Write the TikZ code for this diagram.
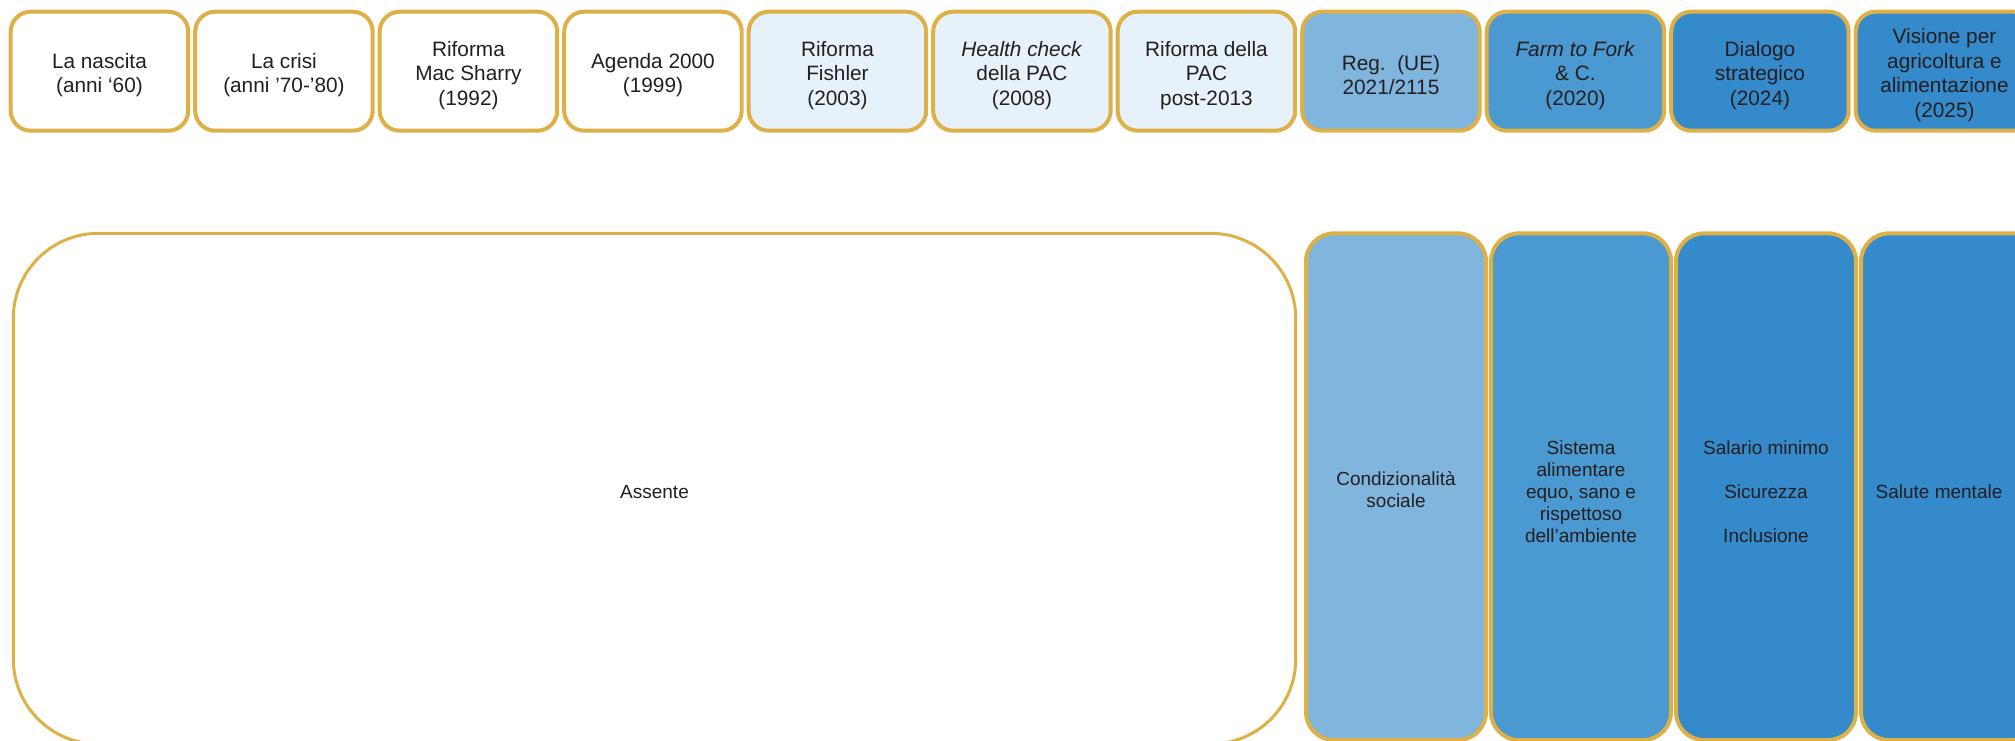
\documentclass[tikz,border=0pt]{standalone}
\usepackage{fontspec}
\setmainfont{Liberation Sans}
\definecolor{gold}{HTML}{DDB048}
\definecolor{paleblue}{HTML}{E6F1F9}
\definecolor{blueA}{HTML}{80B5DD}
\definecolor{blueB}{HTML}{4A99D0}
\definecolor{blueC}{HTML}{348ACA}
\definecolor{ink}{HTML}{231F20}
\begin{document}
\begin{tikzpicture}[x=1pt,y=-1pt,
  topbox/.style={draw=gold, line width=4pt, rounded corners=20pt,
    minimum width=177.5pt, minimum height=119pt, inner sep=0pt},
  colbox/.style={draw=gold, line width=4pt, rounded corners=28pt,
    minimum width=180pt, minimum height=506.7pt, inner sep=0pt},
  bigbox/.style={draw=gold, line width=3pt, rounded corners=85pt,
    minimum width=1282.4pt, minimum height=510.7pt, inner sep=0pt},
  toptext/.style={inner sep=0pt, align=center, text=ink,
    font=\fontsize{20.8}{24.5}\selectfont},
  bottext/.style={inner sep=0pt, align=center, text=ink,
    font=\fontsize{19}{22}\selectfont}]
\useasboundingbox (0,0) rectangle (2015,741);
\clip (0,0) rectangle (2015,741);
% top row boxes
\node[topbox, fill=white]    (t1)  at (99.45,71.2)   {};
\node[topbox, fill=white]    (t2)  at (283.95,71.2)  {};
\node[topbox, fill=white]    (t3)  at (468.45,71.2)  {};
\node[topbox, fill=white]    (t4)  at (652.95,71.2)  {};
\node[topbox, fill=paleblue] (t5)  at (837.45,71.2)  {};
\node[topbox, fill=paleblue] (t6)  at (1021.95,71.2) {};
\node[topbox, fill=paleblue] (t7)  at (1206.45,71.2) {};
\node[topbox, fill=blueA]    (t8)  at (1390.95,71.2) {};
\node[topbox, fill=blueB]    (t9)  at (1575.45,71.2) {};
\node[topbox, fill=blueC]    (t10) at (1759.95,71.2) {};
\node[topbox, fill=blueC]    (t11) at (1944.45,71.2) {};
% top row texts
\node[toptext] (l1)  at ([yshift=-4pt]t1.center)  {La nascita\\(anni ‘60)};
\node[toptext] (l2)  at ([yshift=-4pt]t2.center)  {La crisi\\(anni ’70-’80)};
\node[toptext] (l3)  at ([yshift=-4pt]t3.center)  {Riforma\\Mac Sharry\\(1992)};
\node[toptext] (l4)  at ([yshift=-4pt]t4.center)  {Agenda 2000\\(1999)};
\node[toptext] (l5)  at ([yshift=-4pt]t5.center)  {Riforma\\Fishler\\(2003)};
\node[toptext] (l6)  at ([yshift=-4pt]t6.center)  {\textit{Health check}\\della PAC\\(2008)};
\node[toptext] (l7)  at ([yshift=-4pt]t7.center)  {Riforma della\\PAC\\post-2013};
\node[toptext] (l8)  at ([yshift=-4pt]t8.center)  {Reg.\ \ (UE)\\2021/2115};
\node[toptext] (l9)  at ([yshift=-4pt]t9.center)  {\textit{Farm to Fork}\\\&~C.\\(2020)};
\node[toptext] (l10) at ([yshift=-4pt]t10.center) {Dialogo\\strategico\\(2024)};
\node[toptext] (l11) at ([yshift=-4pt]t11.center) {Visione per\\agricoltura e\\alimentazione\\(2025)};
% bottom row boxes
\node[bigbox, fill=white] (b0) at (654.5,488.7) {};
\node[colbox, fill=blueA] (b1) at (1396,486.7) {};
\node[colbox, fill=blueB] (b2) at (1581,486.7) {};
\node[colbox, fill=blueC] (b3) at (1766,486.7) {};
\node[colbox, fill=blueC] (b4) at (1951,486.7) {};
% bottom row texts
\node[bottext] (m0) at ([yshift=-3pt]b0.center) {Assente};
\node[bottext] (m1) at ([yshift=-3pt]b1.center) {Condizionalità\\sociale};
\node[bottext] (m2) at ([yshift=-5pt]b2.center) {Sistema\\alimentare\\equo, sano e\\rispettoso\\dell’ambiente};
\node[bottext] (m3) at ([yshift=-5pt]b3.center) {Salario minimo\\[22pt]Sicurezza\\[22pt]Inclusione};
\node[bottext] (m4) at ([xshift=-12pt,yshift=-5pt]b4.center) {Salute mentale};
\end{tikzpicture}
\end{document}
